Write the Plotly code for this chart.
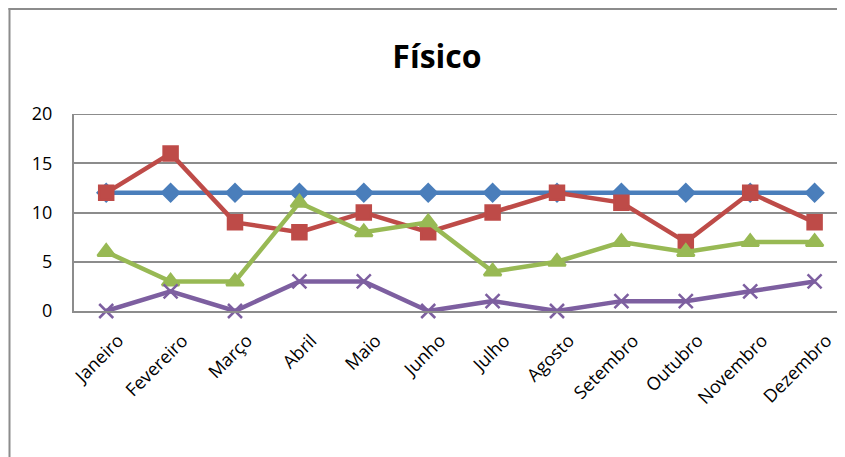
import plotly.graph_objects as go

months = ["Janeiro", "Fevereiro", "Março", "Abril", "Maio", "Junho",
          "Julho", "Agosto", "Setembro", "Outubro", "Novembro", "Dezembro"]
serie_azul = [12, 12, 12, 12, 12, 12, 12, 12, 12, 12, 12, 12]
serie_vermelha = [12, 16, 9, 8, 10, 8, 10, 12, 11, 7, 12, 9]
serie_verde = [6, 3, 3, 11, 8, 9, 4, 5, 7, 6, 7, 7]
serie_roxa = [0, 2, 0, 3, 3, 0, 1, 0, 1, 1, 2, 3]
y_ticks = [0, 5, 10, 15, 20]

FONT = "Open Sans, sans-serif"
OFF = 8  # page body margin
W, H = 845 - OFF, 457 - OFF
L, R, T = 74 - OFF, 0, 114 - OFF
B = H - (311 - OFF)
GRID = "#8C8C8C"

fig = go.Figure()
specs = [
    (serie_azul, "#4A7EBB", "diamond", 13),
    (serie_vermelha, "#BE4B48", "square", 14),
    (serie_verde, "#98B954", "triangle-up", 15),
    (serie_roxa, "#7D5FA0", "x-thin", 14),
]
for vals, color, sym, size in specs:
    fig.add_trace(go.Scatter(
        x=list(range(len(months))), y=vals, mode="lines+markers",
        line=dict(color=color, width=4.5),
        marker=dict(symbol=sym, size=size, color=color,
                    line=dict(color=color, width=2.5)),
        cliponaxis=False, showlegend=False,
    ))

pw = W - L - R
ph = H - T - B
def px_x(p):  # p in page pixels
    return (p - OFF - L) / pw
def px_y(p):
    return (H - B - (p - OFF)) / ph

# outer chart border (left and top edges visible)
fig.add_shape(type="line", xref="paper", yref="paper",
              x0=px_x(9.5), x1=px_x(9.5), y0=px_y(8), y1=px_y(470),
              line=dict(color=GRID, width=2), layer="below")
fig.add_shape(type="line", xref="paper", yref="paper",
              x0=px_x(8.5), x1=1, y0=px_y(9), y1=px_y(9),
              line=dict(color=GRID, width=2), layer="below")
# top gridline at 20
fig.add_shape(type="line", xref="paper", yref="y",
              x0=0, x1=1, y0=20, y1=20,
              line=dict(color=GRID, width=2), layer="below")

fig.update_layout(
    width=W, height=H,
    margin=dict(l=L, r=R, t=T, b=B),
    paper_bgcolor="white", plot_bgcolor="white",
    title=dict(text="<b>Físico</b>", x=(437 - OFF) / W, xanchor="center",
               y=1 - (57 - OFF) / H, yanchor="middle",
               font=dict(family=FONT, size=32, color="black")),
    font=dict(family=FONT, color="black"),
)
fig.update_xaxes(
    range=[-0.5, -0.5 + pw / 64.4], tickmode="array",
    tickvals=list(range(len(months))), ticktext=months,
    tickangle=-45, tickfont=dict(size=18), showgrid=False,
    zeroline=False, showline=True, linecolor=GRID, linewidth=2,
    ticks="", ticklabelstandoff=10, ticklabelshift=12,
)
fig.update_yaxes(
    range=[0, 20], tickvals=y_ticks, showgrid=True,
    gridcolor=GRID, gridwidth=2, zeroline=False,
    showline=True, linecolor=GRID, linewidth=2,
    tickfont=dict(size=18), ticks="", ticklabelstandoff=16,
)
fig.write_html("out.html", config={"displayModeBar": False})
